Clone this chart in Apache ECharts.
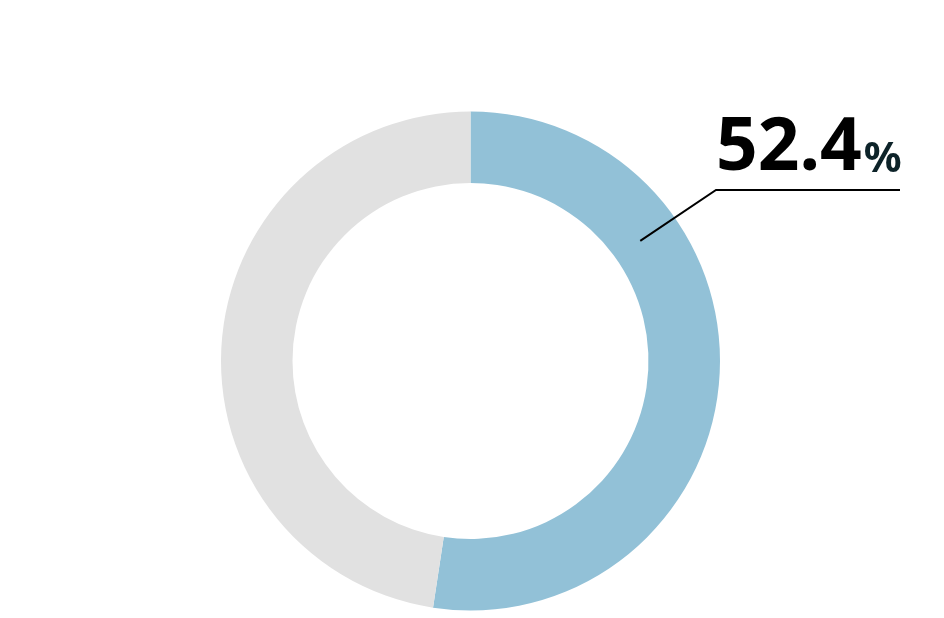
<!DOCTYPE html>
<html>
<head>
<meta charset="utf-8">
<script src="https://cdn.jsdelivr.net/npm/echarts@6/dist/echarts.min.js"></script>
<style>
  html, body { margin: 0; padding: 0; background: #fff; }
  #donut_chart { width: 944px; height: 618px; }
</style>
</head>
<body>
<div id="donut_chart"></div>
<script>
var names = ['該当', 'その他'];
var values = [52.4, 47.6];
var colors = ['#92c1d7', '#e1e1e1'];

var donut_chart = echarts.init(document.getElementById('donut_chart'));

var cx = 470.5, cy = 361;
var rIn = 178, rOut = 249.5;

donut_chart.setOption({
  backgroundColor: '#fff',
  animation: false,
  series: [
    {
      type: 'pie',
      center: [cx, cy],
      radius: [rIn, rOut],
      startAngle: 90,
      clockwise: true,
      z: 2,
      label: { show: false },
      labelLine: { show: false },
      data: names.map(function (n, i) {
        return { name: n, value: values[i], itemStyle: { color: colors[i] } };
      })
    },
    {
      // transparent copy on top, only carries the label and its line
      type: 'pie',
      center: [cx, cy],
      radius: [rIn, rOut],
      startAngle: 90,
      clockwise: true,
      z: 5,
      silent: true,
      avoidLabelOverlap: false,
      itemStyle: { color: 'rgba(0,0,0,0)' },
      data: names.map(function (n, i) {
        return {
          name: n,
          value: values[i],
          label: { show: i === 0 },
          labelLine: { show: i === 0 }
        };
      }),
      label: {
        position: 'outside',
        fontFamily: 'Noto Sans',
        formatter: function (p) {
          return '{a|' + p.value.toFixed(1) + '}{b|%}';
        },
        rich: {
          a: {
            fontSize: 73,
            fontWeight: 'bold',
            color: '#000',
            fontFamily: 'Noto Sans',
            lineHeight: 80,
            verticalAlign: 'bottom'
          },
          b: {
            fontSize: 42,
            fontWeight: 'bold',
            color: '#0d2329',
            fontFamily: 'Noto Sans',
            lineHeight: 80,
            verticalAlign: 'bottom',
            padding: [0, 0, 5, 2]
          }
        }
      },
      labelLine: {
        show: true,
        smooth: false,
        lineStyle: { color: '#000', width: 2 }
      },
      labelLayout: function (params) {
        if (params.dataIndex !== 0) return {};
        // line starts inside the ring, about 54.7deg clockwise from the top
        var a = 54.7 * Math.PI / 180;
        var r = 208;
        return {
          x: 716,
          y: 186,
          align: 'left',
          verticalAlign: 'bottom',
          labelLinePoints: [
            [cx + r * Math.sin(a), cy - r * Math.cos(a)],
            [716, 190],
            [900, 190]
          ]
        };
      }
    }
  ]
});
</script>
</body>
</html>
